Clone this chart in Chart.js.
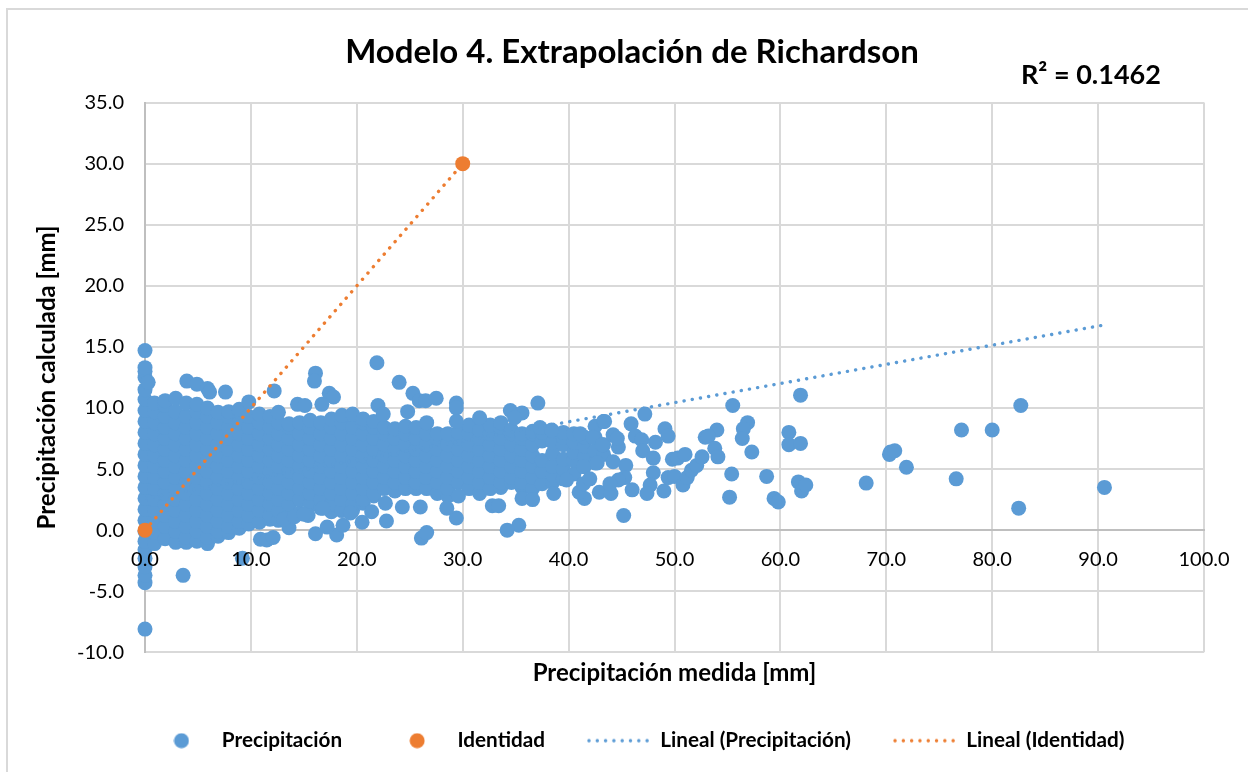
<!DOCTYPE html>
<html>
<head>
<meta charset="utf-8">
<title>Modelo 4. Extrapolación de Richardson</title>
<script src="https://cdn.jsdelivr.net/npm/chart.js@4"></script>
<style>
  html, body { margin: 0; padding: 0; background: #fff; overflow: hidden; width: 1248px; height: 772px; }
  #frame { position: absolute; left: 6px; top: 8px; width: 1242px; height: 764px; border-left: 2px solid #d9d9d9; border-top: 2px solid #d9d9d9; box-sizing: border-box; }
  #pluvio { position: absolute; left: 0; top: 0; }
</style>
</head>
<body>
<div id="frame"></div>
<canvas id="pluvio" width="1248" height="761"></canvas>
<script>
// dense part of the cloud, read column by column (x, then the y values in that column)
var cloudX = [0.0, 0.9, 1.9, 2.9, 3.9, 4.9, 5.9, 6.9, 7.9, 8.9, 9.8, 10.8, 11.8, 12.6, 13.6, 14.6];
var cloudY = [
  [-4.3, -3.7, -3.0, -2.3, -1.6, -0.9, -0.1, 0.8, 1.7, 2.6, 3.5, 4.4, 5.3, 6.2, 7.1, 8.0, 8.9, 9.8, 10.7, 11.5, 12.5, 13.0, 13.3],
  [-1.1, -0.2, 0.7, 1.6, 2.5, 3.4, 4.3, 5.2, 6.1, 7.0, 7.9, 8.8, 9.7, 10.4],
  [-0.7, 0.3, 1.2, 2.1, 3.0, 3.9, 4.8, 5.7, 6.6, 7.5, 8.4, 9.3, 10.2, 10.6],
  [-1.0, -0.1, 0.7, 1.6, 2.5, 3.4, 4.3, 5.2, 6.1, 7.0, 7.9, 8.8, 9.7, 10.8],
  [-1.0, -0.6, 0.3, 1.2, 2.1, 3.0, 3.9, 4.8, 5.7, 6.6, 7.5, 8.4, 9.3, 10.4],
  [-0.9, -0.1, 0.7, 1.6, 2.5, 3.4, 4.3, 5.2, 6.1, 7.0, 7.9, 8.8, 9.7, 10.3],
  [-1.1, -0.6, 0.3, 1.2, 2.1, 3.0, 3.9, 4.8, 5.7, 6.6, 7.5, 8.4, 9.3, 10.0],
  [-0.5, -0.1, 0.7, 1.6, 2.5, 3.4, 4.3, 5.2, 6.1, 7.0, 7.9, 8.8, 9.65],
  [-0.2, 0.3, 1.2, 2.1, 3.0, 3.9, 4.8, 5.7, 6.6, 7.5, 8.4, 9.3, 9.7],
  [0.15, 0.7, 1.6, 2.5, 3.4, 4.3, 5.2, 6.1, 7.0, 7.9, 8.8, 9.7, 9.9],
  [0.5, 1.2, 2.1, 3.0, 3.9, 4.8, 5.7, 6.6, 7.5, 8.4, 9.3, 10.5],
  [0.65, 1.6, 2.5, 3.4, 4.3, 5.2, 6.1, 7.0, 7.9, 8.8, 9.5],
  [0.9, 1.2, 2.1, 3.0, 3.9, 4.8, 5.7, 6.6, 7.5, 8.4, 9.3],
  [0.8, 1.6, 2.5, 3.4, 4.3, 5.2, 6.1, 7.0, 7.9, 8.8, 9.65],
  [1.2, 2.1, 3.0, 3.9, 4.8, 5.7, 6.6, 7.5, 8.4, 8.7],
  [1.4, 2.5, 3.4, 4.3, 5.2, 6.1, 7.0, 7.9, 8.8]
];

var cloudMidX = [15.6, 16.6, 17.6, 18.6, 19.6, 20.6, 21.6, 22.6, 23.6, 24.6, 25.6, 26.6, 27.6, 28.6, 29.6];
var cloudMidY = [
  [2.1, 3.0, 3.9, 4.8, 5.7, 6.6, 7.5, 8.4, 9.0],
  [1.8, 2.5, 3.4, 4.3, 5.2, 6.1, 7.0, 7.9, 8.8],
  [1.5, 2.1, 3.0, 3.9, 4.8, 5.7, 6.6, 7.5, 8.4, 9.1],
  [1.6, 2.5, 3.4, 4.3, 5.2, 6.1, 7.0, 7.9, 8.8, 9.4],
  [1.6, 2.1, 3.0, 3.9, 4.8, 5.7, 6.6, 7.5, 8.4, 9.5],
  [2.2, 2.5, 3.4, 4.3, 5.2, 6.1, 7.0, 7.9, 8.8, 9.1],
  [2.8, 3.0, 3.9, 4.8, 5.7, 6.6, 7.5, 8.4, 8.9],
  [3.4, 4.3, 5.2, 6.1, 7.0, 7.9, 8.4],
  [3.2, 3.9, 4.8, 5.7, 6.6, 7.5, 8.3],
  [3.4, 4.3, 5.2, 6.1, 7.0, 7.9, 8.5],
  [3.4, 3.9, 4.8, 5.7, 6.6, 7.5, 8.4],
  [3.4, 4.3, 5.2, 6.1, 7.0, 7.9, 8.8],
  [3.0, 3.9, 4.8, 5.7, 6.6, 7.5, 7.9],
  [2.8, 3.4, 4.3, 5.2, 6.1, 7.0, 7.9],
  [3.9, 4.8, 5.7, 6.6, 7.5, 8.0]
];

var cloudRightX = [30.6, 31.6, 32.6, 33.6, 34.6, 35.6, 36.6, 37.5, 38.5, 39.5, 40.5, 41.5, 42.5, 43.3];
var cloudRightY = [
  [3.4, 4.3, 5.2, 6.1, 7.0, 7.9, 8.6],
  [3.0, 3.9, 4.8, 5.7, 6.6, 7.5, 8.2],
  [3.4, 4.3, 5.2, 6.1, 7.0, 7.9, 8.6],
  [3.5, 3.9, 4.8, 5.7, 6.6, 7.5, 8.4, 8.8],
  [3.9, 4.3, 5.2, 6.1, 7.0, 7.9, 8.2],
  [3.5, 3.9, 4.8, 5.7, 6.6, 7.5, 7.9],
  [3.4, 4.3, 5.2, 6.1, 7.0, 7.9, 8.1],
  [3.8, 4.8, 5.7, 7.3, 8.0],
  [3.9, 4.5, 5.2, 6.3, 7.2, 8.1],
  [4.2, 5.0, 5.8, 7.0, 7.6, 8.0],
  [4.6, 5.7, 6.4, 7.2, 7.9],
  [5.2, 6.0, 6.9, 7.6],
  [5.5, 6.5, 7.6, 8.5],
  [6.2, 7.0, 8.9]
];

// single points that can be told apart
var upperPoints = [[0, 14.7], [0.3, 12.1], [3.95, 12.2], [4.9, 11.95], [5.9, 11.6], [6.1, 11.3], [7.6, 11.3], [12.2, 11.4],
  [16.1, 12.85], [16, 12.2], [21.9, 13.7], [24, 12.1], [25.3, 11.2], [25.9, 10.6], [26.5, 10.6], [27.5, 10.8], [29.4, 10.4], [29.4, 10],
  [22, 10.2], [17.4, 11.2], [17.8, 10.9], [16.7, 10.3], [14.4, 10.3], [15.1, 10.2], [22.5, 9.5], [24.8, 9.7], [29.4, 8.9]];
var lowerPoints = [[0, -8.1], [3.6, -3.7], [9.2, -2.3], [10.9, -0.75], [11.5, -0.8], [12.1, -0.6], [13.6, 0.2], [16.1, -0.3], [18.1, -0.4],
  [17.2, 0.25], [18.7, 0.4], [20.5, 0.65], [21.4, 1.5], [22.8, 0.75], [26.1, -0.65], [26.6, -0.2], [29.4, 1], [28.5, 1.8], [29.6, 2.8],
  [22.7, 2.2], [24.3, 1.9], [26, 1.9], [15.4, 1.2], [19.4, 1.4], [16.8, 1.8], [32.8, 2], [33.4, 2], [35.3, 0.4], [34.2, 0], [35.6, 2.6], [36.6, 2.5], [38.6, 3],
  [13.1, 0.9], [14.1, 1.1], [15, 1.3]];
var tailPoints = [[31.6, 9.2], [34.5, 9.8], [35.6, 9.6], [34.9, 9.2], [37.1, 10.4], [37.3, 8.4], [38.4, 8.2], [41.1, 7.9], [42.3, 7.6], [43.2, 7], [42.7, 5.5], [41.4, 5.2],
  [43.4, 8.9], [47.2, 9.5], [45.9, 8.7], [44.2, 7.8], [44.7, 6.8], [44.6, 7.5], [46.3, 7.7], [46.9, 7.4], [48.2, 7.2], [47, 6.5], [49.1, 8.3], [49.4, 7.7],
  [48, 5.9], [48, 4.7], [47.7, 3.7], [47.4, 3], [49, 3.2], [46, 3.3], [45.2, 1.2], [45.4, 5.3], [45.3, 4.3], [44.7, 4.1], [44.2, 5.6], [42.9, 3.1], [44, 3], [43.9, 3.8],
  [41.5, 2.6], [41, 3.1], [41.4, 3.8], [42, 4.2], [39.8, 4.1], [49.8, 5.8], [50.3, 5.9], [51, 6.2], [49.4, 4.3], [50, 4.4], [50.8, 3.7], [51.2, 4.3], [51.6, 4.9], [52.1, 5.3], [52.6, 6],
  [52.9, 7.6], [54, 8.2], [53.2, 7.7], [53.8, 6.7], [54.1, 6], [55.5, 10.2], [56.9, 8.8], [56.5, 8.3], [56.4, 7.5], [57.3, 6.4], [55.4, 4.6], [55.2, 2.7],
  [58.7, 4.4], [59.4, 2.6], [59.8, 2.3], [60.8, 8], [60.8, 7], [61.9, 7.1], [61.9, 11.05], [61.7, 3.95], [62, 3.2], [62.4, 3.7], [68.1, 3.85],
  [70.3, 6.2], [70.4, 6.4], [70.8, 6.5], [71.9, 5.15], [76.6, 4.2], [77.1, 8.2], [80, 8.2], [82.5, 1.8], [82.7, 10.2], [90.6, 3.5]];

var identityX = [0, 30];
var identityY = [0, 30];
var trendX = [0, 90.6];
var trendY = [2.6, 16.8];

var seriesNames = ['Precipitación', 'Identidad', 'Lineal (Precipitación)', 'Lineal (Identidad)'];
var BLUE = '#5B9BD5';
var ORANGE = '#ED7D31';
var FONT = 'Lato';

function columnsToPoints(xs, ys) {
  var out = [];
  for (var i = 0; i < xs.length; i++) {
    for (var j = 0; j < ys[i].length; j++) {
      out.push({ x: xs[i], y: ys[i][j] });
    }
  }
  return out;
}
function pairsToPoints(pairs) {
  return pairs.map(function(p) { return { x: p[0], y: p[1] }; });
}
function zip(xs, ys) {
  return xs.map(function(x, i) { return { x: x, y: ys[i] }; });
}

var precipPoints = columnsToPoints(cloudX, cloudY)
  .concat(columnsToPoints(cloudMidX, cloudMidY))
  .concat(columnsToPoints(cloudRightX, cloudRightY))
  .concat(pairsToPoints(upperPoints))
  .concat(pairsToPoints(lowerPoints))
  .concat(pairsToPoints(tailPoints));

// legend swatches, the native ones cannot mix dots and dotted lines
function dotSwatch(color) {
  var c = document.createElement('canvas');
  c.width = 16; c.height = 16;
  var g = c.getContext('2d');
  g.fillStyle = color;
  g.beginPath();
  g.arc(8, 8, 7.5, 0, Math.PI * 2);
  g.fill();
  return c;
}
function lineSwatch(color) {
  var c = document.createElement('canvas');
  c.width = 66; c.height = 6;
  var g = c.getContext('2d');
  g.strokeStyle = color;
  g.lineWidth = 3.4;
  g.lineCap = 'round';
  g.setLineDash([0.1, 8.2]);
  g.beginPath();
  g.moveTo(2, 3);
  g.lineTo(65, 3);
  g.stroke();
  return c;
}
var swatches = [dotSwatch(BLUE), dotSwatch(ORANGE), lineSwatch(BLUE), lineSwatch(ORANGE)];

var r2Label = {
  id: 'r2Label',
  afterLayout: function(chart) {
    // title sits a little left of the legend's centre in the original
    chart.titleBlock.left -= 12;
  },
  afterDraw: function(chart) {
    var g = chart.ctx;
    g.save();
    g.font = 'bold 27px ' + FONT;
    g.fillStyle = '#000';
    g.textBaseline = 'middle';
    g.fillText('R² = 0.1462', 1021, 75);
    g.restore();
  }
};

function tickOneDecimal(v) { return v.toFixed(1); }
var tickFont = { family: FONT, size: 20 };
var axisTitleFont = { family: FONT, size: 24, weight: 'bold' };
var legendFont = { family: FONT, size: 20.7, weight: 'bold' };
var gridColor = '#d9d9d9';
var axisColor = '#bfbfbf';

new Chart(document.getElementById('pluvio').getContext('2d'), {
  type: 'scatter',
  data: {
    datasets: [
      { label: seriesNames[0], data: precipPoints, backgroundColor: BLUE, borderWidth: 0, pointRadius: 7.5, clip: false, order: 4 },
      { label: seriesNames[1], data: zip(identityX, identityY), backgroundColor: ORANGE, borderWidth: 0, pointRadius: 7.5, clip: false, order: 1 },
      { label: seriesNames[2], data: zip(trendX, trendY), showLine: true, pointRadius: 0, borderColor: BLUE, borderWidth: 3.4, borderDash: [0.1, 8.2], borderCapStyle: 'round', order: 3 },
      { label: seriesNames[3], data: zip(identityX, identityY), showLine: true, pointRadius: 0, borderColor: ORANGE, borderWidth: 3.4, borderDash: [0.1, 8.2], borderCapStyle: 'round', order: 2 }
    ]
  },
  plugins: [r2Label],
  options: {
    responsive: false,
    animation: false,
    layout: { padding: { left: 28, right: 0, top: 0, bottom: 0 } },
    plugins: {
      tooltip: { enabled: false },
      title: {
        display: true,
        text: 'Modelo 4. Extrapolación de Richardson',
        color: '#000',
        font: { family: FONT, size: 33, weight: 'bold' },
        padding: { top: 33, bottom: 30 }
      },
      legend: {
        position: 'bottom',
        labels: {
          color: '#000',
          font: legendFont,
          usePointStyle: true,
          pointStyleWidth: 60,
          padding: 45,
          generateLabels: function(chart) {
            return chart.data.datasets.map(function(ds, i) {
              return { text: ds.label, pointStyle: swatches[i], datasetIndex: i, fontColor: '#000', lineWidth: 0 };
            });
          }
        }
      }
    },
    scales: {
      x: {
        type: 'linear',
        position: { y: 0 },
        min: 0, max: 100,
        ticks: { stepSize: 10, callback: tickOneDecimal, color: '#000', font: tickFont, padding: 17, maxRotation: 0, z: 1 },
        grid: { color: gridColor, lineWidth: 2, drawTicks: false },
        border: { color: axisColor, width: 2 }
      },
      y: {
        type: 'linear',
        position: 'left',
        min: -10, max: 35,
        ticks: { stepSize: 5, callback: tickOneDecimal, color: '#000', font: tickFont, padding: 21, z: 1 },
        grid: { color: gridColor, lineWidth: 2, drawTicks: false },
        border: { color: axisColor, width: 2 },
        title: { display: true, text: 'Precipitación calculada [mm]', color: '#000', font: axisTitleFont, padding: { top: 4.6, bottom: 0 } },
        afterFit: function(s) { s.width = 117; }
      },
      // these two only carry the x title and reserve the right margin
      xTitle: {
        axis: 'x', type: 'linear', position: 'bottom', min: 0, max: 1,
        ticks: { display: false }, grid: { display: false }, border: { display: false },
        title: { display: true, text: 'Precipitación medida [mm]', color: '#000', font: axisTitleFont, padding: { top: -1.4, bottom: -2.4 } }
      },
      yRight: {
        axis: 'y', type: 'linear', position: 'right', min: 0, max: 1,
        ticks: { display: false }, grid: { display: false }, border: { display: false },
        afterFit: function(s) { s.width = 44; }
      }
    }
  }
});
</script>
</body>
</html>
